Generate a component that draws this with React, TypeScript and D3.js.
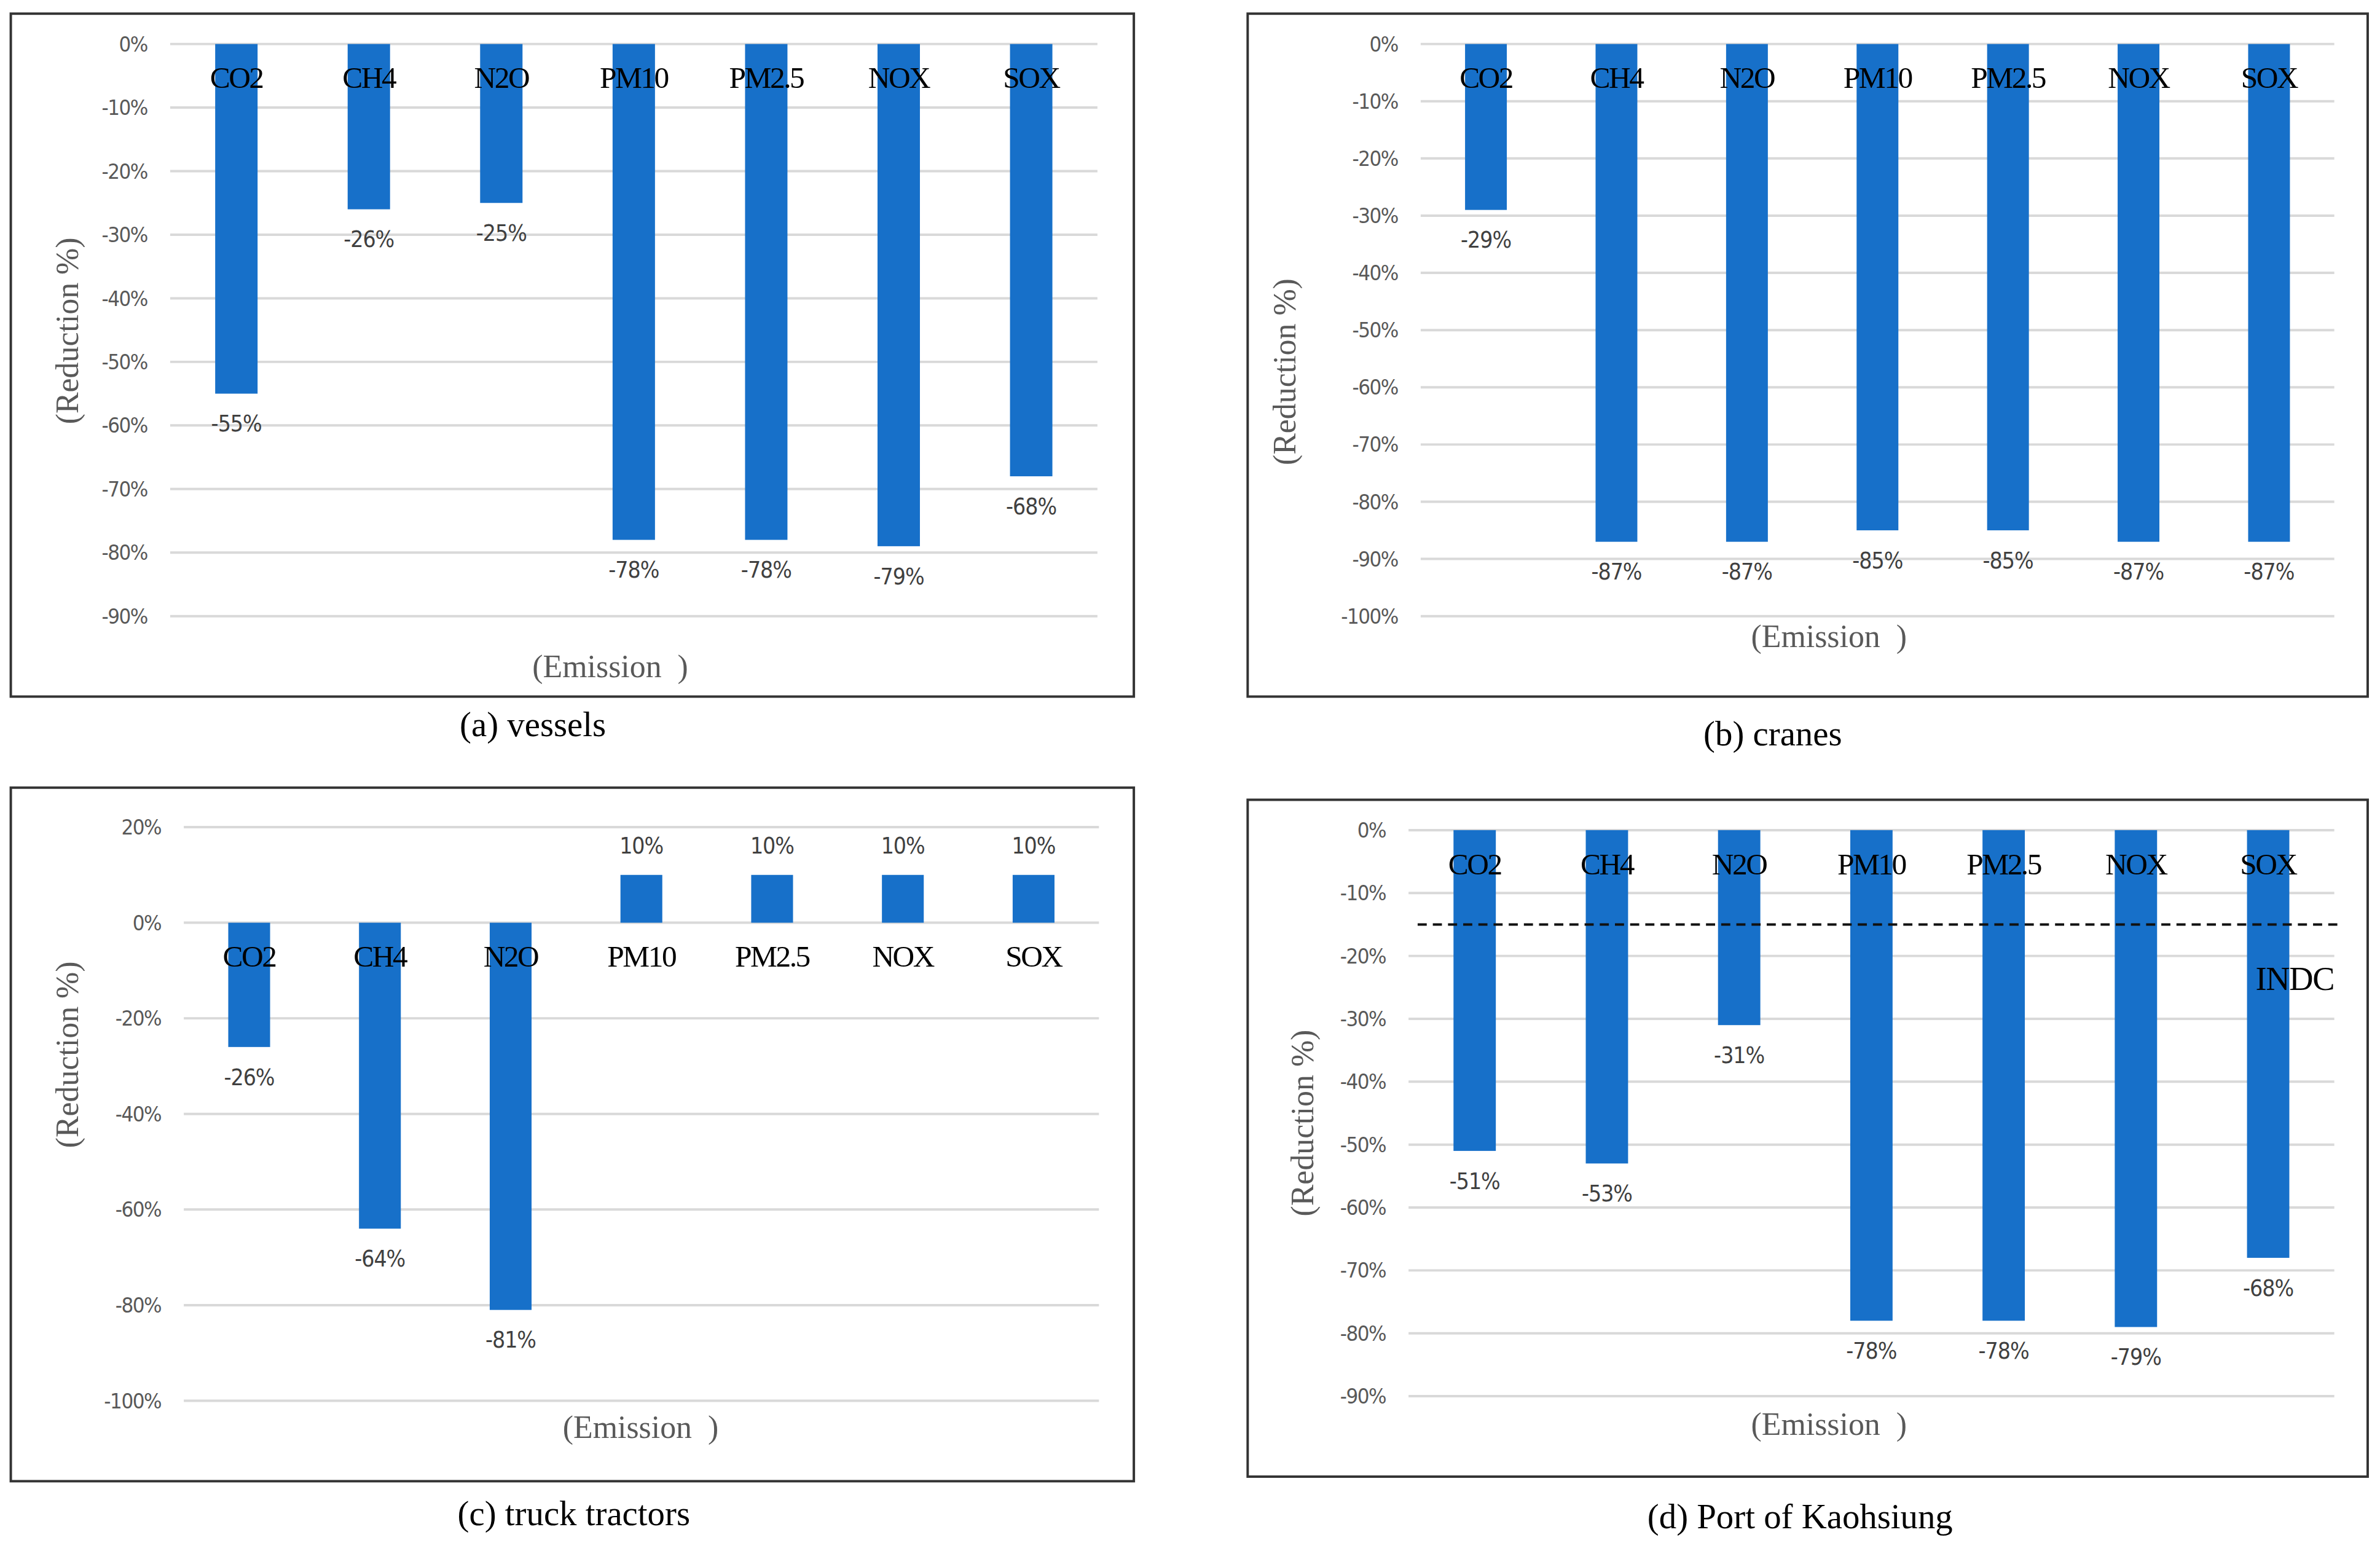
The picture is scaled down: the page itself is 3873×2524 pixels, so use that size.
import React from 'react';
import * as d3 from 'd3';

// emission categories shared by all four panels
const emissions = ['CO2', 'CH4', 'N2O', 'PM10', 'PM2.5', 'NOX', 'SOX'];

// reduction (%) per panel
const vesselsValues = [-55, -26, -25, -78, -78, -79, -68];
const cranesValues = [-29, -87, -87, -85, -85, -87, -87];
const truckValues = [-26, -64, -81, 10, 10, 10, 10];
const portValues = [-51, -53, -31, -78, -78, -79, -68];

// y tick values per panel
const ticksA = [0, -10, -20, -30, -40, -50, -60, -70, -80, -90];
const ticksB = [0, -10, -20, -30, -40, -50, -60, -70, -80, -90, -100];
const ticksC = [20, 0, -20, -40, -60, -80, -100];
const ticksD = [0, -10, -20, -30, -40, -50, -60, -70, -80, -90];

const indcTarget = -15;

const W = 1568;
const H = 1022;
const BLUE = '#1770C9';
const SERIF = '"Liberation Serif", "Times New Roman", serif';
const SANS = '"DejaVu Sans Condensed", "Liberation Sans", sans-serif';

interface PanelProps {
  values: number[];
  ticks: number[];
  domain: [number, number];
  box: [number, number, number, number];
  xRange: [number, number];
  yRange: [number, number];
  yTitle: [number, number];
  xTitle: [number, number];
  caption: string;
  captionPos: [number, number];
  indc?: number;
}

const Panel: React.FC<PanelProps> = ({
  values, ticks, domain, box, xRange, yRange, yTitle, xTitle, caption, captionPos, indc,
}) => {
  const x = d3.scaleBand<string>().domain(emissions).range(xRange).paddingInner(0.68).paddingOuter(0.34);
  const y = d3.scaleLinear().domain(domain).range(yRange);
  const y0 = y(0);
  const bw = x.bandwidth();

  return (
    <g>
      <rect x={box[0]} y={box[1]} width={box[2] - box[0]} height={box[3] - box[1]}
        fill="none" stroke="#333" strokeWidth={1.6} />
      {ticks.map(t => (
        <g key={t}>
          <line x1={xRange[0]} x2={xRange[1]} y1={y(t)} y2={y(t)} stroke="#d9d9d9" strokeWidth={1.6} />
          <text x={xRange[0] - 15} y={y(t)} dy="0.35em" textAnchor="end"
            fontFamily={SANS} fontSize={14} fill="#595959" letterSpacing={-0.6}>{`${t}%`}</text>
        </g>
      ))}
      {values.map((v, i) => {
        const c = emissions[i];
        const yv = y(v);
        return (
          <g key={c}>
            <rect x={x(c)!} y={Math.min(yv, y0)} width={bw} height={Math.abs(yv - y0)} fill={BLUE} />
            <text x={x(c)! + bw / 2} y={v < 0 ? yv + 25 : yv - 14} textAnchor="middle"
              fontFamily={SANS} fontSize={15} fill="#404040" letterSpacing={-0.4}>{`${v}%`}</text>
          </g>
        );
      })}
      {emissions.map(c => (
        <text key={c} x={x(c)! + bw / 2} y={y0 + 29} textAnchor="middle"
          fontFamily={SERIF} fontSize={20} fill="#000" letterSpacing={-1}>{c}</text>
      ))}
      {indc !== undefined && (
        <g>
          <line x1={xRange[0] + 6} x2={xRange[1] + 4} y1={y(indc)} y2={y(indc)}
            stroke="#111" strokeWidth={1.6} strokeDasharray="6,4" />
          <text x={xRange[1] - 26} y={y(indc) + 43} textAnchor="middle"
            fontFamily={SERIF} fontSize={22} fill="#000" letterSpacing={-0.5}>INDC</text>
        </g>
      )}
      <text transform={`translate(${yTitle[0]},${yTitle[1]}) rotate(-90)`} textAnchor="middle" dy="0.35em"
        fontFamily={SERIF} fontSize={21} fill="#595959">(Reduction %)</text>
      <text x={xTitle[0]} y={xTitle[1]} dy="0.35em" textAnchor="middle"
        fontFamily={SERIF} fontSize={21} fill="#595959" style={{ whiteSpace: 'pre' }}>(Emission  )</text>
      <text x={captionPos[0]} y={captionPos[1]} dy="0.35em" textAnchor="middle"
        fontFamily={SERIF} fontSize={23} fill="#000">{caption}</text>
    </g>
  );
};

const App: React.FC = () => (
  <svg width={3873} height={2524} viewBox={`0 0 ${W} ${H}`}
    style={{ position: 'absolute', left: 0, top: 0, background: '#fff' }}>
    <rect width={W} height={H} fill="#fff" />
    <Panel values={vesselsValues} ticks={ticksA} domain={[-90, 0]}
      box={[7, 9, 747, 459]} xRange={[112, 723]} yRange={[406, 29]}
      yTitle={[44, 218]} xTitle={[402, 439]} caption="(a) vessels" captionPos={[351, 477]} />
    <Panel values={cranesValues} ticks={ticksB} domain={[-100, 0]}
      box={[822, 9, 1560, 459]} xRange={[936, 1538]} yRange={[406, 29]}
      yTitle={[846, 245]} xTitle={[1205, 419]} caption="(b) cranes" captionPos={[1168, 483]} />
    <Panel values={truckValues} ticks={ticksC} domain={[-100, 20]}
      box={[7, 519, 747, 976]} xRange={[121, 724]} yRange={[923, 545]}
      yTitle={[44, 695]} xTitle={[422, 940]} caption="(c) truck tractors" captionPos={[378, 997]} />
    <Panel values={portValues} ticks={ticksD} domain={[-90, 0]}
      box={[822, 527, 1560, 973]} xRange={[928, 1538]} yRange={[920, 547]}
      yTitle={[858, 740]} xTitle={[1205, 938]} caption="(d) Port of Kaohsiung" captionPos={[1186, 999]}
      indc={indcTarget} />
  </svg>
);

export default App;
